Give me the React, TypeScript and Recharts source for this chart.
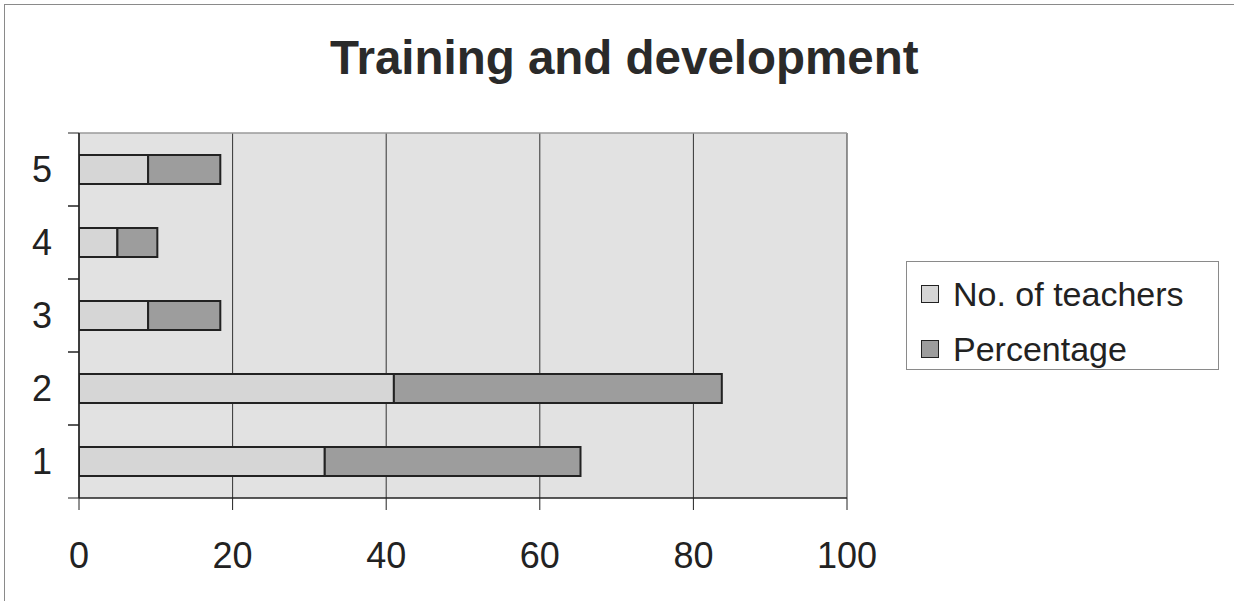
import React from "react";
import { BarChart, Bar, XAxis, YAxis, CartesianGrid } from "recharts";

const categories = ["1", "2", "3", "4", "5"];
const teachers = [32, 41, 9, 5, 9];
const percentage = [33.3, 42.7, 9.4, 5.2, 9.4];
const xTicks = [0, 20, 40, 60, 80, 100];

const seriesInfo = [
  { key: "teachers", name: "No. of teachers", color: "#d6d6d6" },
  { key: "percentage", name: "Percentage", color: "#9d9d9d" },
];

// top category first (5 at top)
const rows = categories
  .map((c, i) => ({ cat: c, teachers: teachers[i], percentage: percentage[i] }))
  .reverse();

const FONT = "'Liberation Sans', Arial, sans-serif";
const INK = "#222";
const Y_TICK_SIZE = 11;
const Y_TICK_MARGIN = 16;

// Category label at band centre plus tick marks at the band boundaries
const CategoryTick = (props: any) => {
  const { x, y, payload } = props;
  const half = payload && payload.offset ? payload.offset : 0;
  const x1 = x + Y_TICK_MARGIN;
  const x2 = x1 + Y_TICK_SIZE;
  return (
    <g>
      <line x1={x1} x2={x2} y1={y - half} y2={y - half} stroke={INK} strokeWidth={1} />
      <line x1={x1} x2={x2} y1={y + half} y2={y + half} stroke={INK} strokeWidth={1} />
      <text
        x={x}
        y={y}
        dy="0.355em"
        textAnchor="end"
        fontSize={36}
        fill={INK}
        fontFamily={FONT}
      >
        {payload.value}
      </text>
    </g>
  );
};

export default function App() {
  return (
    <div
      style={{
        position: "absolute",
        left: 0,
        top: 0,
        width: 1234,
        height: 601,
        background: "#fff",
        fontFamily: FONT,
        overflow: "hidden",
      }}
    >
      <div
        style={{
          position: "absolute",
          left: 4,
          top: 4,
          width: 1240,
          height: 610,
          borderLeft: "1px solid #8a8a8a",
          borderTop: "1px solid #8a8a8a",
        }}
      />
      <div
        style={{
          position: "absolute",
          left: 330,
          top: 34,
          fontSize: 47.5,
          lineHeight: "47px",
          fontWeight: 700,
          color: "#2a2a2a",
          whiteSpace: "nowrap",
        }}
      >
        Training and development
      </div>
      <div style={{ position: "absolute", left: 0, top: 0 }}>
        <BarChart
          width={1234}
          height={601}
          data={rows}
          layout="vertical"
          margin={{ top: 132, right: 387, bottom: 0, left: 0 }}
          barCategoryGap="30%"
          style={{ fontFamily: FONT }}
        >
          <CartesianGrid
            yAxisId="cat"
            horizontal={false}
            vertical={true}
            stroke="#333"
            strokeWidth={1}
            fill="#e2e2e2"
            fillOpacity={1}
          />
          <XAxis
            type="number"
            domain={[0, 100]}
            ticks={xTicks}
            tickSize={12}
            tickMargin={32}
            height={103}
            interval={0}
            allowDataOverflow
            axisLine={{ stroke: INK, strokeWidth: 1.5 }}
            tickLine={{ stroke: INK }}
            tick={{ fontSize: 36, fill: INK, fontFamily: FONT }}
          />
          <XAxis
            xAxisId="top"
            orientation="top"
            type="number"
            domain={[0, 100]}
            ticks={xTicks}
            height={1}
            allowDataOverflow
            tick={false}
            tickLine={false}
            axisLine={{ stroke: "#9a9a9a", strokeWidth: 1.5 }}
          />
          <YAxis
            yAxisId="cat"
            type="category"
            dataKey="cat"
            width={79}
            tickSize={Y_TICK_SIZE}
            tickMargin={Y_TICK_MARGIN}
            tickLine={false}
            interval={0}
            tick={CategoryTick}
            axisLine={{ stroke: INK, strokeWidth: 1.5 }}
          />
          <Bar
            yAxisId="cat"
            dataKey="teachers"
            name={seriesInfo[0].name}
            stackId="a"
            fill={seriesInfo[0].color}
            stroke={INK}
            strokeWidth={2}
            isAnimationActive={false}
          />
          <Bar
            yAxisId="cat"
            dataKey="percentage"
            name={seriesInfo[1].name}
            stackId="a"
            fill={seriesInfo[1].color}
            stroke={INK}
            strokeWidth={2}
            isAnimationActive={false}
          />
        </BarChart>
      </div>
      <div
        style={{
          position: "absolute",
          left: 906,
          top: 261,
          width: 313,
          height: 109,
          border: "1px solid #8a8a8a",
          boxSizing: "border-box",
        }}
      >
        {seriesInfo.map((s, i) => (
          <div
            key={s.key}
            style={{
              position: "absolute",
              left: 14,
              top: 12 + i * 55,
              height: 40,
              display: "flex",
              alignItems: "center",
              whiteSpace: "nowrap",
            }}
          >
            <div
              style={{
                width: 18,
                height: 18,
                background: s.color,
                border: `1.5px solid ${INK}`,
                boxSizing: "border-box",
                marginRight: 14,
              }}
            />
            <span style={{ fontSize: 34, color: INK, lineHeight: "40px" }}>{s.name}</span>
          </div>
        ))}
      </div>
    </div>
  );
}
